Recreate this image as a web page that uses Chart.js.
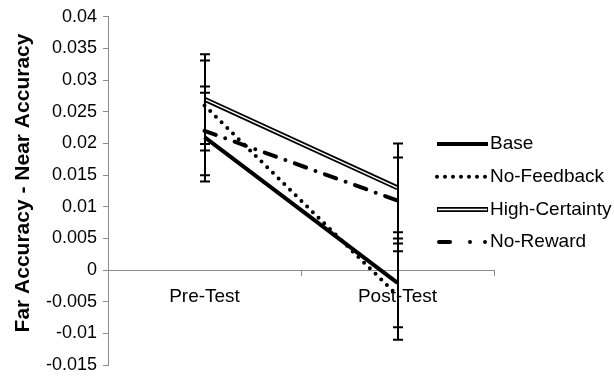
<!DOCTYPE html>
<html>
<head>
<meta charset="utf-8">
<script src="https://cdn.jsdelivr.net/npm/chart.js@4.4.1/dist/chart.umd.min.js"></script>
<style>
  html, body { margin: 0; padding: 0; background: #fff; }
  canvas { display: block; }
</style>
</head>
<body>
<canvas id="chart" width="614" height="382"></canvas>
<script>
// far minus near accuracy, per condition, with error bars
const categories = ['Pre-Test', 'Post-Test'];
const base = [0.021, -0.002];
const baseErr = [0.007, 0.007];
const noFeedback = [0.026, -0.004];
const noFeedbackErr = [0.0071, 0.007];
const highCertainty = [0.027, 0.013];
const highCertaintyErr = [0.0071, 0.007];
const noReward = [0.022, 0.011];
const noRewardErr = [0.007, 0.0068];
const yMin = -0.015, yMax = 0.04, yStep = 0.005;
const yTitle = 'Far Accuracy - Near Accuracy';

const FONT = 'Arial, "Liberation Sans", sans-serif';
const AXIS = '#8c8c8c';

const series = [
  { name: 'Base', values: base, err: baseErr, style: 'solid' },
  { name: 'No-Feedback', values: noFeedback, err: noFeedbackErr, style: 'dot' },
  { name: 'High-Certainty', values: highCertainty, err: highCertaintyErr, style: 'double' },
  { name: 'No-Reward', values: noReward, err: noRewardErr, style: 'dashdot' },
];

const lineStyle = {
  solid:   { borderColor: '#000', borderWidth: 4 },
  dot:     { borderColor: '#000', borderWidth: 4, borderDash: [0, 8], borderCapStyle: 'round' },
  double:  { borderColor: '#000', borderWidth: 5 },
  dashdot: { borderColor: '#000', borderWidth: 4, borderDash: [12, 10, 0, 10], borderCapStyle: 'round' },
};

const datasets = [];
series.forEach((s, i) => {
  datasets.push(Object.assign({ label: s.name, data: s.values, pointRadius: 0, order: 10 - i }, lineStyle[s.style]));
  if (s.style === 'double') {
    // white core makes the outlined double line
    datasets.push({ label: s.name + ' core', data: s.values, pointRadius: 0, borderColor: '#fff', borderWidth: 1.5, order: 0 });
  }
});

const errorBars = {
  id: 'errorBars',
  afterDatasetsDraw(chart) {
    const { ctx, scales: { x, y } } = chart;
    ctx.save();
    ctx.strokeStyle = '#000';
    ctx.lineWidth = 2;
    series.forEach(s => s.values.forEach((v, i) => {
      const px = Math.round(x.getPixelForValue(i));
      const top = y.getPixelForValue(v + s.err[i]);
      const bot = y.getPixelForValue(v - s.err[i]);
      ctx.beginPath();
      ctx.moveTo(px, top); ctx.lineTo(px, bot);
      ctx.moveTo(px - 5, top); ctx.lineTo(px + 5, top);
      ctx.moveTo(px - 5, bot); ctx.lineTo(px + 5, bot);
      ctx.stroke();
    }));
    ctx.restore();
  }
};

const sideLegend = {
  id: 'sideLegend',
  afterDraw(chart) {
    const ctx = chart.ctx;
    const x0 = 437, x1 = 488, top = 144, gap = 32.7;
    ctx.save();
    ctx.font = '19px ' + FONT;
    ctx.textBaseline = 'middle';
    ctx.fillStyle = '#000';
    series.forEach((s, i) => {
      const yy = top + i * gap;
      const st = lineStyle[s.style];
      ctx.strokeStyle = '#000';
      ctx.lineWidth = st.borderWidth;
      ctx.lineCap = st.borderCapStyle || 'butt';
      ctx.setLineDash(s.style === 'dot' ? [0, 8] : s.style === 'dashdot' ? [11, 20, 0, 15, 0, 100] : []);
      ctx.beginPath();
      ctx.moveTo(s.style === 'dashdot' ? x0 + 2 : x0, yy);
      ctx.lineTo(x1, yy);
      ctx.stroke();
      if (s.style === 'double') {
        ctx.strokeStyle = '#fff';
        ctx.lineWidth = 1.5;
        ctx.beginPath();
        ctx.moveTo(x0 + 1, yy); ctx.lineTo(x1 - 1, yy);
        ctx.stroke();
      }
      ctx.setLineDash([]);
      ctx.fillText(s.name, 490, yy);
    });
    ctx.restore();
  }
};

const sideTitle = {
  id: 'sideTitle',
  afterDraw(chart) {
    const ctx = chart.ctx;
    ctx.save();
    ctx.translate(23, 183);
    ctx.rotate(-Math.PI / 2);
    ctx.font = 'bold 21px ' + FONT;
    ctx.fillStyle = '#000';
    ctx.textAlign = 'center';
    ctx.textBaseline = 'middle';
    ctx.fillText(yTitle, 0, 0);
    ctx.restore();
  }
};

new Chart(document.getElementById('chart'), {
  type: 'line',
  data: { labels: categories, datasets },
  options: {
    responsive: false,
    animation: false,
    devicePixelRatio: 1,
    layout: { padding: { top: 15, bottom: 10, right: 120, left: 0 } },
    plugins: { legend: { display: false }, tooltip: { enabled: false } },
    scales: {
      x: {
        position: { y: 0 },
        offset: true,
        grid: { offset: true, drawOnChartArea: false, tickLength: 5, color: AXIS },
        border: { color: AXIS },
        ticks: { color: '#000', font: { size: 19, family: FONT }, padding: 10, maxRotation: 0 }
      },
      y: {
        min: yMin,
        max: yMax,
        afterFit(scale) { scale.width = 108; },
        grid: { drawOnChartArea: false, tickLength: 5, color: AXIS },
        border: { color: AXIS },
        ticks: {
          stepSize: yStep,
          color: '#000',
          font: { size: 18, family: FONT },
          padding: 6,
          callback: v => String(parseFloat(v.toFixed(3)))
        }
      }
    }
  },
  plugins: [errorBars, sideLegend, sideTitle]
});
</script>
</body>
</html>
